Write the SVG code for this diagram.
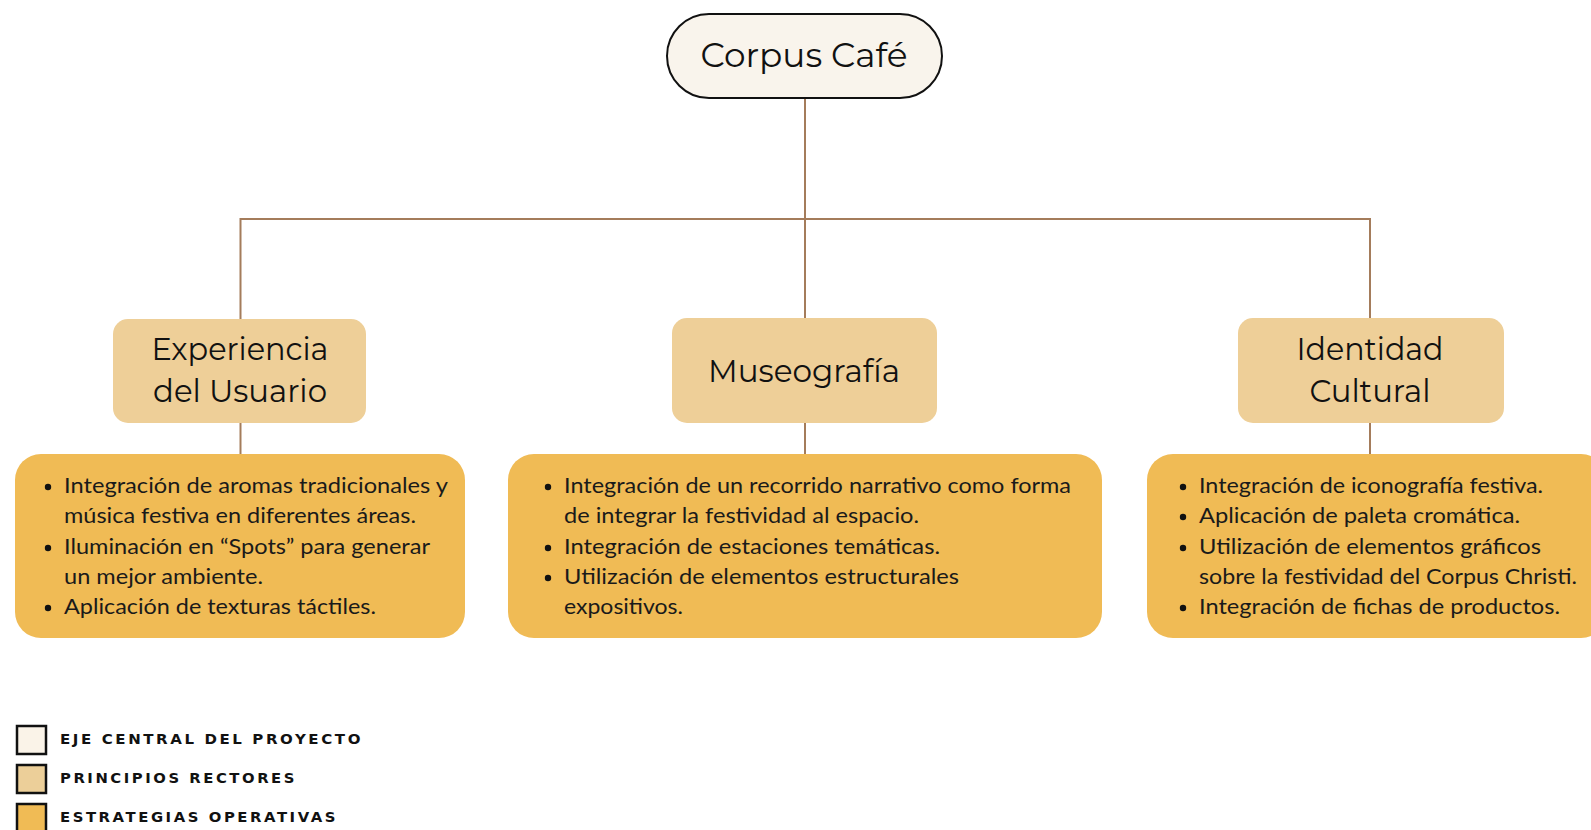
<svg xmlns="http://www.w3.org/2000/svg" width="1591" height="830" viewBox="0 0 1591 830">
<style>
.bg{fill:#ffffff}
.conn{stroke:#a47c5b;stroke-width:2;fill:none}
.root{fill:#f9f4ec;stroke:#111;stroke-width:2}
.prin{fill:#eecf98}
.strat{fill:#f0bb55}
.title{font-family:"Montserrat","Noto Sans","Liberation Sans",sans-serif;font-size:31px;fill:#111;text-anchor:middle}
.item{font-family:"Lato","Open Sans",sans-serif;font-size:21px;fill:#1a1a1a}
.dot{fill:#111}
.leg{font-family:"DejaVu Sans","Liberation Sans",sans-serif;font-weight:bold;font-size:14.5px;fill:#111;letter-spacing:2.5px}
.legbox{stroke:#111;stroke-width:2.5}
</style>
<rect class="bg" x="0" y="0" width="1591" height="830"/>
<g id="connectors">
<path class="conn" d="M805 98 V319"/>
<path class="conn" d="M240.5 319 V219 H1370 V319"/>
<path class="conn" d="M240.5 423 V454"/>
<path class="conn" d="M805 423 V454"/>
<path class="conn" d="M1370 423 V454"/>
</g>
<g id="root">
<rect class="root" x="667" y="14" width="275" height="84" rx="42"/>
<text class="title" x="804" y="67" textLength="207" lengthAdjust="spacingAndGlyphs" style="font-size:34px">Corpus Café</text>
</g>
<g id="experiencia">
<rect class="prin" x="113" y="319" width="253" height="104" rx="15"/>
<text class="title" x="240" y="360" textLength="177" lengthAdjust="spacingAndGlyphs">Experiencia</text>
<text class="title" x="240" y="402" textLength="174" lengthAdjust="spacingAndGlyphs">del Usuario</text>
</g>
<g id="museografia">
<rect class="prin" x="672" y="318" width="265" height="105" rx="15"/>
<text class="title" x="804" y="382" textLength="192" lengthAdjust="spacingAndGlyphs">Museografía</text>
</g>
<g id="identidad">
<rect class="prin" x="1238" y="318" width="266" height="105" rx="15"/>
<text class="title" x="1370" y="360" textLength="147" lengthAdjust="spacingAndGlyphs">Identidad</text>
<text class="title" x="1370" y="402" textLength="121" lengthAdjust="spacingAndGlyphs">Cultural</text>
</g>
<g id="estrategias-experiencia">
<rect class="strat" x="15" y="454" width="450" height="184" rx="26"/>
<circle class="dot" cx="48" cy="487" r="3.2"/>
<circle class="dot" cx="48" cy="548" r="3.2"/>
<circle class="dot" cx="48" cy="608" r="3.2"/>
<text class="item" x="64" y="493" textLength="384" lengthAdjust="spacingAndGlyphs">Integración de aromas tradicionales y</text>
<text class="item" x="64" y="523" textLength="352" lengthAdjust="spacingAndGlyphs">música festiva en diferentes áreas.</text>
<text class="item" x="64" y="554" textLength="366" lengthAdjust="spacingAndGlyphs">Iluminación en “Spots” para generar</text>
<text class="item" x="64" y="584" textLength="199" lengthAdjust="spacingAndGlyphs">un mejor ambiente.</text>
<text class="item" x="64" y="614" textLength="312" lengthAdjust="spacingAndGlyphs">Aplicación de texturas táctiles.</text>
</g>
<g id="estrategias-museografia">
<rect class="strat" x="508" y="454" width="594" height="184" rx="26"/>
<circle class="dot" cx="548" cy="487" r="3.2"/>
<circle class="dot" cx="548" cy="548" r="3.2"/>
<circle class="dot" cx="548" cy="578" r="3.2"/>
<text class="item" x="564" y="493" textLength="507" lengthAdjust="spacingAndGlyphs">Integración de un recorrido narrativo como forma</text>
<text class="item" x="564" y="523" textLength="355" lengthAdjust="spacingAndGlyphs">de integrar la festividad al espacio.</text>
<text class="item" x="564" y="554" textLength="376" lengthAdjust="spacingAndGlyphs">Integración de estaciones temáticas.</text>
<text class="item" x="564" y="584" textLength="395" lengthAdjust="spacingAndGlyphs">Utilización de elementos estructurales</text>
<text class="item" x="564" y="614" textLength="119" lengthAdjust="spacingAndGlyphs">expositivos.</text>
</g>
<g id="estrategias-identidad">
<rect class="strat" x="1147" y="454" width="460" height="184" rx="26"/>
<circle class="dot" cx="1183" cy="487" r="3.2"/>
<circle class="dot" cx="1183" cy="517" r="3.2"/>
<circle class="dot" cx="1183" cy="548" r="3.2"/>
<circle class="dot" cx="1183" cy="608" r="3.2"/>
<text class="item" x="1199" y="493" textLength="344" lengthAdjust="spacingAndGlyphs">Integración de iconografía festiva.</text>
<text class="item" x="1199" y="523" textLength="321" lengthAdjust="spacingAndGlyphs">Aplicación de paleta cromática.</text>
<text class="item" x="1199" y="554" textLength="342" lengthAdjust="spacingAndGlyphs">Utilización de elementos gráficos</text>
<text class="item" x="1199" y="584" textLength="378" lengthAdjust="spacingAndGlyphs">sobre la festividad del Corpus Christi.</text>
<text class="item" x="1199" y="614" textLength="361" lengthAdjust="spacingAndGlyphs">Integración de fichas de productos.</text>
</g>
<g id="legend">
<rect class="legbox" x="17" y="726" width="29" height="28" fill="#faf3e8"/>
<rect class="legbox" x="17" y="765" width="29" height="28" fill="#eccf99"/>
<rect class="legbox" x="17" y="804" width="29" height="30" fill="#f0bb55"/>
<text class="leg" x="60" y="744" textLength="303" lengthAdjust="spacingAndGlyphs">EJE CENTRAL DEL PROYECTO</text>
<text class="leg" x="60" y="783" textLength="237" lengthAdjust="spacingAndGlyphs">PRINCIPIOS RECTORES</text>
<text class="leg" x="60" y="822" textLength="278" lengthAdjust="spacingAndGlyphs">ESTRATEGIAS OPERATIVAS</text>
</g>
</svg>
